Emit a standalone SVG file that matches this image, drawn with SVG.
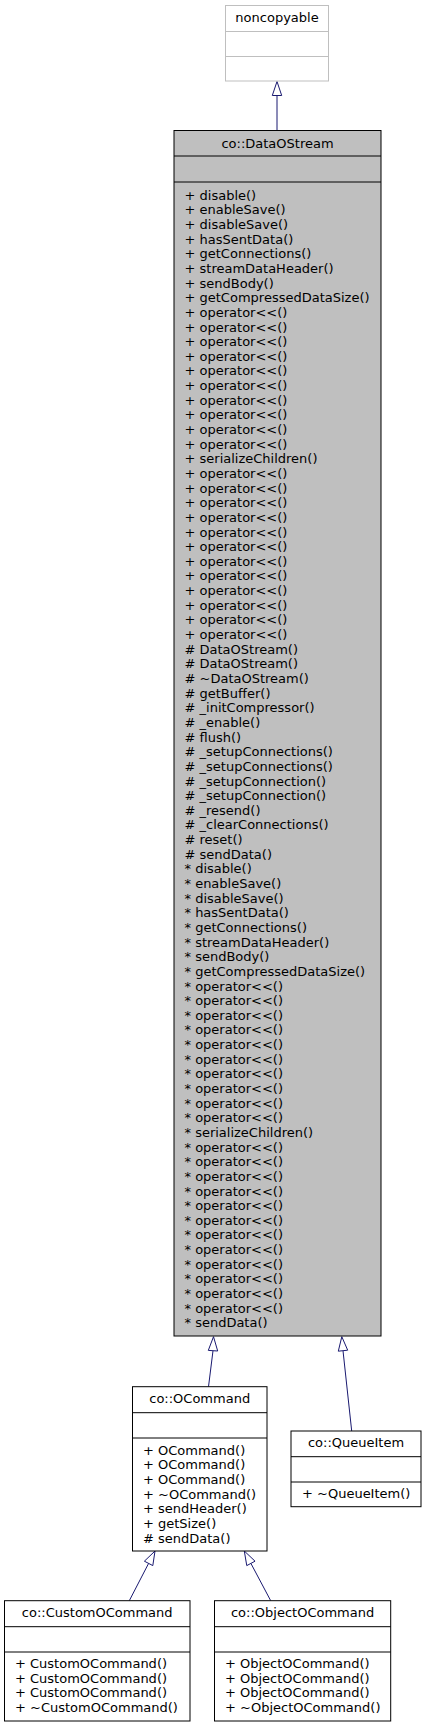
<svg xmlns="http://www.w3.org/2000/svg" width="425" height="1728" viewBox="0 0 425 1728">
<style>
text{font-family:"DejaVu Sans","Liberation Sans",sans-serif;font-size:13px;fill:#000}
.t{text-anchor:middle}
.box{fill:#fff;stroke:#000;stroke-width:1}
.ext{fill:#fff;stroke:#bfbfbf;stroke-width:1}
.cur{fill:#bfbfbf;stroke:#000;stroke-width:1}
.dv{stroke:#000;stroke-width:1}
.dvx{stroke:#bfbfbf;stroke-width:1}
.edge{fill:none;stroke:#191970;stroke-width:1}
.head{fill:#fff;stroke:#191970;stroke-width:1}
</style>
<rect width="425" height="1728" fill="#fff"/>
<g id="connectors">
<line class="edge" x1="277" y1="130.5" x2="277" y2="95.5"/>
<polygon class="head" points="277,81.5 272.3,95.5 281.7,95.5"/>
<line class="edge" x1="208.5" y1="1386.7" x2="213" y2="1350.7"/>
<polygon class="head" points="213.5,1336.7 208.3,1350.4 217.7,1351"/>
<line class="edge" x1="351.7" y1="1431" x2="343" y2="1350.7"/>
<polygon class="head" points="341.8,1336.7 338.3,1351.2 347.7,1350.2"/>
<line class="edge" x1="129.3" y1="1600.7" x2="148.6" y2="1563.4"/>
<polygon class="head" points="155,1551 144.4,1561.2 152.8,1565.6"/>
<line class="edge" x1="270.7" y1="1600.7" x2="250.9" y2="1563.4"/>
<polygon class="head" points="244.3,1551 246.75,1565.6 255.05,1561.2"/>
</g>
<g id="noncopyable">
<rect class="ext" x="225.5" y="5.5" width="103" height="75.5"/>
<line class="dvx" x1="225.5" y1="31.5" x2="328.5" y2="31.5"/>
<line class="dvx" x1="225.5" y1="56.5" x2="328.5" y2="56.5"/>
<text class="t" x="277" y="22.2">noncopyable</text>
</g>
<g id="DataOStream">
<rect class="cur" x="174" y="130.5" width="207" height="1205.5"/>
<line class="dv" x1="174" y1="156" x2="381" y2="156"/>
<line class="dv" x1="174" y1="182" x2="381" y2="182"/>
<text class="t" x="277.5" y="147.6">co::DataOStream</text>
<text x="184.5" y="199.7"><tspan x="184.5">+ disable()</tspan><tspan x="184.5" dy="14.645">+ enableSave()</tspan><tspan x="184.5" dy="14.645">+ disableSave()</tspan><tspan x="184.5" dy="14.645">+ hasSentData()</tspan><tspan x="184.5" dy="14.645">+ getConnections()</tspan><tspan x="184.5" dy="14.645">+ streamDataHeader()</tspan><tspan x="184.5" dy="14.645">+ sendBody()</tspan><tspan x="184.5" dy="14.645">+ getCompressedDataSize()</tspan><tspan x="184.5" dy="14.645">+ operator&lt;&lt;()</tspan><tspan x="184.5" dy="14.645">+ operator&lt;&lt;()</tspan><tspan x="184.5" dy="14.645">+ operator&lt;&lt;()</tspan><tspan x="184.5" dy="14.645">+ operator&lt;&lt;()</tspan><tspan x="184.5" dy="14.645">+ operator&lt;&lt;()</tspan><tspan x="184.5" dy="14.645">+ operator&lt;&lt;()</tspan><tspan x="184.5" dy="14.645">+ operator&lt;&lt;()</tspan><tspan x="184.5" dy="14.645">+ operator&lt;&lt;()</tspan><tspan x="184.5" dy="14.645">+ operator&lt;&lt;()</tspan><tspan x="184.5" dy="14.645">+ operator&lt;&lt;()</tspan><tspan x="184.5" dy="14.645">+ serializeChildren()</tspan><tspan x="184.5" dy="14.645">+ operator&lt;&lt;()</tspan><tspan x="184.5" dy="14.645">+ operator&lt;&lt;()</tspan><tspan x="184.5" dy="14.645">+ operator&lt;&lt;()</tspan><tspan x="184.5" dy="14.645">+ operator&lt;&lt;()</tspan><tspan x="184.5" dy="14.645">+ operator&lt;&lt;()</tspan><tspan x="184.5" dy="14.645">+ operator&lt;&lt;()</tspan><tspan x="184.5" dy="14.645">+ operator&lt;&lt;()</tspan><tspan x="184.5" dy="14.645">+ operator&lt;&lt;()</tspan><tspan x="184.5" dy="14.645">+ operator&lt;&lt;()</tspan><tspan x="184.5" dy="14.645">+ operator&lt;&lt;()</tspan><tspan x="184.5" dy="14.645">+ operator&lt;&lt;()</tspan><tspan x="184.5" dy="14.645">+ operator&lt;&lt;()</tspan><tspan x="184.5" dy="14.645"># DataOStream()</tspan><tspan x="184.5" dy="14.645"># DataOStream()</tspan><tspan x="184.5" dy="14.645"># ~DataOStream()</tspan><tspan x="184.5" dy="14.645"># getBuffer()</tspan><tspan x="184.5" dy="14.645"># _initCompressor()</tspan><tspan x="184.5" dy="14.645"># _enable()</tspan><tspan x="184.5" dy="14.645"># flush()</tspan><tspan x="184.5" dy="14.645"># _setupConnections()</tspan><tspan x="184.5" dy="14.645"># _setupConnections()</tspan><tspan x="184.5" dy="14.645"># _setupConnection()</tspan><tspan x="184.5" dy="14.645"># _setupConnection()</tspan><tspan x="184.5" dy="14.645"># _resend()</tspan><tspan x="184.5" dy="14.645"># _clearConnections()</tspan><tspan x="184.5" dy="14.645"># reset()</tspan><tspan x="184.5" dy="14.645"># sendData()</tspan><tspan x="184.5" dy="14.645">* disable()</tspan><tspan x="184.5" dy="14.645">* enableSave()</tspan><tspan x="184.5" dy="14.645">* disableSave()</tspan><tspan x="184.5" dy="14.645">* hasSentData()</tspan><tspan x="184.5" dy="14.645">* getConnections()</tspan><tspan x="184.5" dy="14.645">* streamDataHeader()</tspan><tspan x="184.5" dy="14.645">* sendBody()</tspan><tspan x="184.5" dy="14.645">* getCompressedDataSize()</tspan><tspan x="184.5" dy="14.645">* operator&lt;&lt;()</tspan><tspan x="184.5" dy="14.645">* operator&lt;&lt;()</tspan><tspan x="184.5" dy="14.645">* operator&lt;&lt;()</tspan><tspan x="184.5" dy="14.645">* operator&lt;&lt;()</tspan><tspan x="184.5" dy="14.645">* operator&lt;&lt;()</tspan><tspan x="184.5" dy="14.645">* operator&lt;&lt;()</tspan><tspan x="184.5" dy="14.645">* operator&lt;&lt;()</tspan><tspan x="184.5" dy="14.645">* operator&lt;&lt;()</tspan><tspan x="184.5" dy="14.645">* operator&lt;&lt;()</tspan><tspan x="184.5" dy="14.645">* operator&lt;&lt;()</tspan><tspan x="184.5" dy="14.645">* serializeChildren()</tspan><tspan x="184.5" dy="14.645">* operator&lt;&lt;()</tspan><tspan x="184.5" dy="14.645">* operator&lt;&lt;()</tspan><tspan x="184.5" dy="14.645">* operator&lt;&lt;()</tspan><tspan x="184.5" dy="14.645">* operator&lt;&lt;()</tspan><tspan x="184.5" dy="14.645">* operator&lt;&lt;()</tspan><tspan x="184.5" dy="14.645">* operator&lt;&lt;()</tspan><tspan x="184.5" dy="14.645">* operator&lt;&lt;()</tspan><tspan x="184.5" dy="14.645">* operator&lt;&lt;()</tspan><tspan x="184.5" dy="14.645">* operator&lt;&lt;()</tspan><tspan x="184.5" dy="14.645">* operator&lt;&lt;()</tspan><tspan x="184.5" dy="14.645">* operator&lt;&lt;()</tspan><tspan x="184.5" dy="14.645">* operator&lt;&lt;()</tspan><tspan x="184.5" dy="14.645">* sendData()</tspan></text>
</g>
<g id="OCommand">
<rect class="box" x="132.5" y="1386.7" width="134.5" height="164.3"/>
<line class="dv" x1="132.5" y1="1412.7" x2="267" y2="1412.7"/>
<line class="dv" x1="132.5" y1="1438" x2="267" y2="1438"/>
<text class="t" x="199.7" y="1403.2">co::OCommand</text>
<text x="143"><tspan x="143" y="1454.7">+ OCommand()</tspan><tspan x="143" dy="14.645">+ OCommand()</tspan><tspan x="143" dy="14.645">+ OCommand()</tspan><tspan x="143" dy="14.645">+ ~OCommand()</tspan><tspan x="143" dy="14.645">+ sendHeader()</tspan><tspan x="143" dy="14.645">+ getSize()</tspan><tspan x="143" dy="14.645"># sendData()</tspan></text>
</g>
<g id="QueueItem">
<rect class="box" x="291" y="1431" width="130" height="75.7"/>
<line class="dv" x1="291" y1="1456.7" x2="421" y2="1456.7"/>
<line class="dv" x1="291" y1="1482" x2="421" y2="1482"/>
<text class="t" x="356" y="1447.4">co::QueueItem</text>
<text x="302" y="1498">+ ~QueueItem()</text>
</g>
<g id="CustomOCommand">
<rect class="box" x="4.5" y="1600.7" width="185.5" height="120.3"/>
<line class="dv" x1="4.5" y1="1626.7" x2="190" y2="1626.7"/>
<line class="dv" x1="4.5" y1="1652" x2="190" y2="1652"/>
<text class="t" x="97.2" y="1617.2">co::CustomOCommand</text>
<text x="15"><tspan x="15" y="1668">+ CustomOCommand()</tspan><tspan x="15" dy="14.645">+ CustomOCommand()</tspan><tspan x="15" dy="14.645">+ CustomOCommand()</tspan><tspan x="15" dy="14.645">+ ~CustomOCommand()</tspan></text>
</g>
<g id="ObjectOCommand">
<rect class="box" x="214.5" y="1600.7" width="176.2" height="120.3"/>
<line class="dv" x1="214.5" y1="1626.7" x2="390.7" y2="1626.7"/>
<line class="dv" x1="214.5" y1="1652" x2="390.7" y2="1652"/>
<text class="t" x="302.6" y="1617.2">co::ObjectOCommand</text>
<text x="225"><tspan x="225" y="1668">+ ObjectOCommand()</tspan><tspan x="225" dy="14.645">+ ObjectOCommand()</tspan><tspan x="225" dy="14.645">+ ObjectOCommand()</tspan><tspan x="225" dy="14.645">+ ~ObjectOCommand()</tspan></text>
</g>
</svg>
